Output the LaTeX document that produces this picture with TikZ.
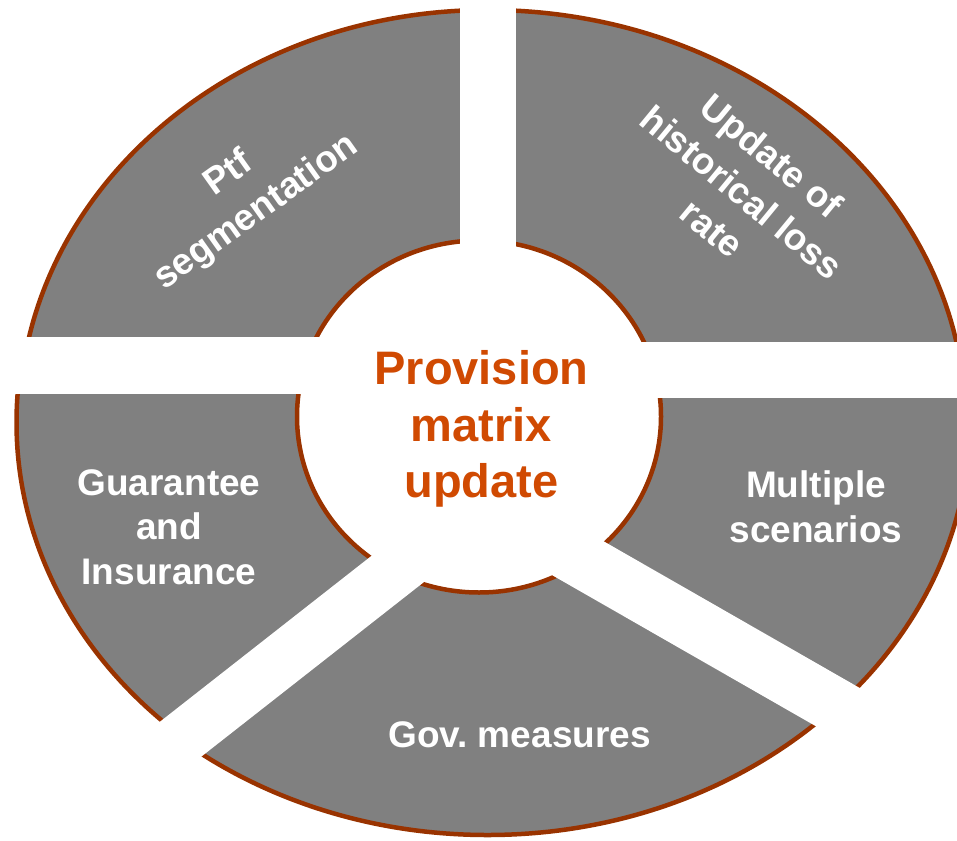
\documentclass[tikz,border=0pt]{standalone}
\usepackage{fontspec}
\setmainfont{Liberation Sans}
\definecolor{segfill}{HTML}{808080}
\definecolor{ringline}{HTML}{993300}
\definecolor{centertext}{HTML}{D04A02}
\begin{document}
\begin{tikzpicture}[x=1pt,y=-1pt,
  seg/.style={fill=segfill, draw=ringline, line width=4.5pt},
  gapstrip/.style={draw=white, line width=#1},
  segtext/.style={text=white, font=\bfseries\fontsize{37}{44.4}\selectfont, align=center, inner sep=0pt},
  rottext/.style={segtext, font=\bfseries\fontsize{37}{47}\selectfont},
  ctext/.style={text=centertext, font=\bfseries\fontsize{47}{56.5}\selectfont, align=center, inner sep=0pt}]
\useasboundingbox (0,0) rectangle (957,840);
\coordinate (C) at (487.5,422.5);
\coordinate (J) at (478,503.5);
% Ptf segmentation
\begin{scope}
  \clip (-50,-50) rectangle (488,366);
  \path[seg] (C) ellipse [x radius=468.5, y radius=412.5];
\end{scope}
% Update of historical loss rate
\begin{scope}
  \clip (488,-50) rectangle (1000,370);
  \path[seg] (C) ellipse [x radius=478, y radius=412.5];
\end{scope}
% Multiple scenarios
\begin{scope}
  \clip (479,370) -- (1000,370) -- (1000,800) -- (J) -- cycle;
  \path[seg] (C) ellipse [x radius=482, y radius=412.5];
\end{scope}
% Gov. measures
\begin{scope}
  \clip (J) -- (1000,800) -- (1000,1000) -- (-50,1000) -- (-50,918) -- cycle;
  \path[seg] (C) ellipse [x radius=480, y radius=412.5];
\end{scope}
% Guarantee and Insurance
\begin{scope}
  \clip (-50,366) -- (479,366) -- (J) -- (-50,918) -- cycle;
  \path[seg] (C) ellipse [x radius=471, y radius=412.5];
\end{scope}
% inner circle
\path[fill=white, draw=ringline, line width=4.5pt] (479,416.5) ellipse [x radius=182, y radius=176];
% gaps
\coordinate (g1a) at (488,-30);
\coordinate (g1b) at (488,416);
\coordinate (g2a) at (-30,365.5);
\coordinate (g2b) at (479,365.5);
\coordinate (g3a) at (479,370);
\coordinate (g3b) at (990,370);
\coordinate (g4a) at (478,501);
\coordinate (g4b) at (1000,800);
\coordinate (g5a) at (478,506);
\coordinate (g5b) at (-50,920);
\draw[gapstrip=56pt] (g1a) -- (g1b);
\draw[gapstrip=57pt] (g2a) -- (g2b);
\draw[gapstrip=56pt] (g3a) -- (g3b);
\draw[gapstrip=55pt] (g4a) -- (g4b);
\draw[gapstrip=53pt] (g5a) -- (g5b);
% texts
\node[ctext] (centre) at (481.5,429.3) {Provision\\matrix\\update};
\node[rottext, rotate=35.4] (ptf) at (243,193.5) {Ptf\\segmentation};
\node[rottext, rotate=-39.5] (upd) at (742,192) {Update of\\historical loss\\rate};
\node[segtext] (mult) at (816,506.7) {Multiple\\scenarios};
\node[segtext, anchor=base] (gov) at (519.5,747) {Gov.\ measures};
\node[segtext] (guar) at (169,527) {Guarantee\\and\\Insurance};
\end{tikzpicture}
\end{document}
